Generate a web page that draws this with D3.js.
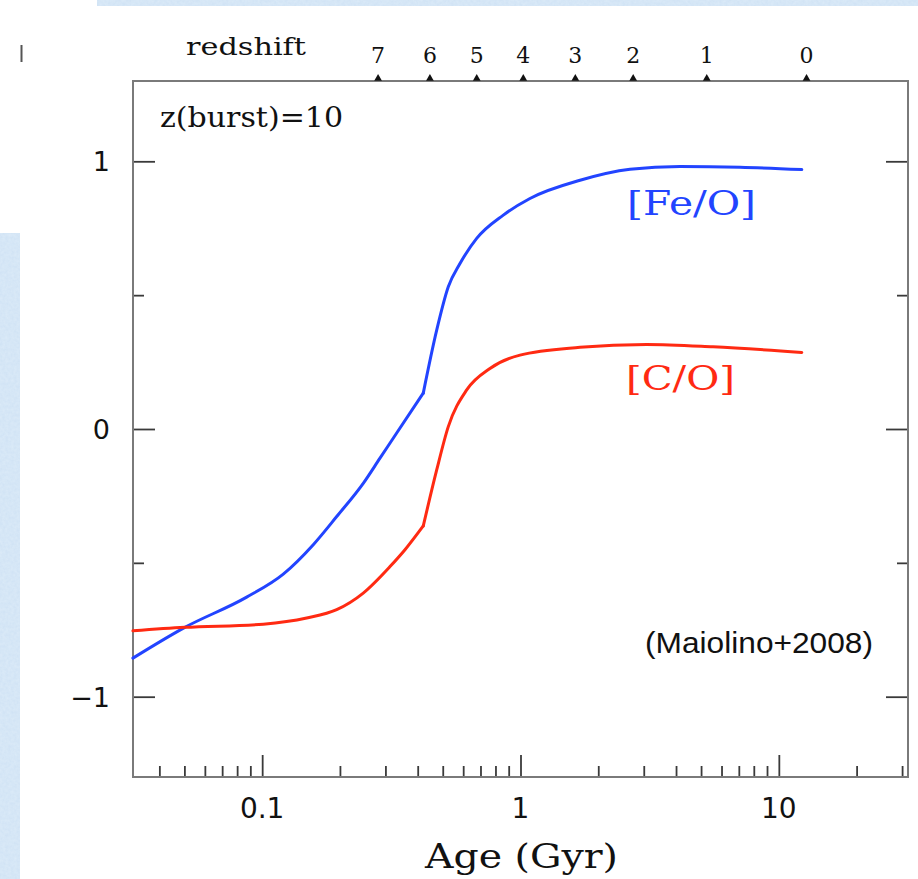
<!DOCTYPE html>
<html>
<head>
<meta charset="utf-8">
<script src="https://cdn.jsdelivr.net/npm/d3@7"></script>
<style>
  html, body { margin: 0; padding: 0; background: #ffffff; }
  svg { display: block; }
</style>
</head>
<body>
<svg id="chart" width="918" height="879"></svg>
<script>
// ---- data ----
const feoAge   = [0.0316, 0.0502, 0.0871, 0.1207, 0.1577, 0.1943, 0.2462, 0.2858, 0.3317, 0.4204, 0.4738, 0.5254, 0.5831, 0.6767, 0.8579, 1.088, 1.700, 2.654, 4.146, 7.075, 12.27];
const feoValue = [-0.856, -0.741, -0.628, -0.542, -0.432, -0.327, -0.203, -0.109, -0.015, 0.134, 0.369, 0.531, 0.618, 0.712, 0.799, 0.861, 0.929, 0.970, 0.981, 0.978, 0.969];

const coAge   = [0.0316, 0.0502, 0.101, 0.1487, 0.1943, 0.2462, 0.3125, 0.3571, 0.4204, 0.4738, 0.5254, 0.6191, 0.7617, 0.9956, 1.700, 3.080, 5.563, 12.27];
const coValue = [-0.754, -0.741, -0.729, -0.706, -0.675, -0.613, -0.514, -0.451, -0.362, -0.153, 0.009, 0.146, 0.226, 0.276, 0.305, 0.316, 0.307, 0.286];

// age at which both tracks show a sharp break
const kinkAge = 0.4204;

const redshiftLabels = ["7", "6", "5", "4", "3", "2", "1", "0"];
const redshiftAge    = [0.281, 0.446, 0.677, 1.025, 1.63, 2.73, 5.26, 12.8];

const xTickValues = [0.1, 1, 10];
const xTickLabels = ["0.1", "1", "10"];
const yTickValues = [-1, 0, 1];
const yTickLabels = ["\u22121", "0", "1"];
const yMinorValues = [-0.5, 0.5];

const seriesNames  = ["[Fe/O]", "[C/O]"];

// ---- layout ----
const svg = d3.select("#chart");
const L = 133, R = 908, T = 81, B = 777;

const x = d3.scaleLog().domain([Math.pow(10, -1.5), Math.pow(10, 1.5)]).range([L, R]);
const y = d3.scaleLinear().domain([-1.3, 1.3]).range([B, T]);

// background decoration (light blue strips)
const defs = svg.append("defs");
const filt = defs.append("filter").attr("id", "tex").attr("x", 0).attr("y", 0).attr("width", 1).attr("height", 1);
filt.append("feTurbulence").attr("type", "fractalNoise").attr("baseFrequency", 0.35).attr("numOctaves", 2).attr("seed", 3).attr("result", "n");
filt.append("feColorMatrix").attr("in", "n").attr("type", "matrix")
  .attr("values", "0 0 0 0 0.80  0 0 0 0 0.89  0 0 0 0 0.97  0 0 0 0.9 0").attr("result", "c");
filt.append("feComposite").attr("in", "c").attr("in2", "SourceGraphic").attr("operator", "in");

const strips = [[97, 0, 821, 6], [0, 233, 20, 646]];
strips.forEach(s => {
  svg.append("rect").attr("x", s[0]).attr("y", s[1]).attr("width", s[2]).attr("height", s[3]).attr("fill", "#cfe2f4");
  svg.append("rect").attr("x", s[0]).attr("y", s[1]).attr("width", s[2]).attr("height", s[3]).attr("fill", "#cfe2f4")
    .attr("filter", "url(#tex)").attr("opacity", 0.6);
});

// small stray mark at top-left
svg.append("line").attr("x1", 21.5).attr("x2", 21.5).attr("y1", 45).attr("y2", 62)
  .attr("stroke", "#555").attr("stroke-width", 2);

// ---- axes (ticks inward) ----
const tickColor = "#3a3a3a";
function styleAxis(g) {
  g.select(".domain").remove();
  g.selectAll(".tick line").attr("stroke", tickColor).attr("stroke-width", 1.8);
  g.selectAll(".tick text").remove();
}
const minorX = x.ticks().filter(v => Math.abs(Math.log10(v) - Math.round(Math.log10(v))) > 1e-6);

svg.append("g").attr("transform", `translate(0,${B})`)
  .call(d3.axisBottom(x).tickValues(xTickValues).tickSize(-22).tickFormat(""))
  .call(styleAxis);
svg.append("g").attr("transform", `translate(0,${B})`)
  .call(d3.axisBottom(x).tickValues(minorX).tickSize(-11).tickFormat(""))
  .call(styleAxis);

svg.append("g").attr("transform", `translate(${L},0)`)
  .call(d3.axisLeft(y).tickValues(yTickValues).tickSize(-22).tickFormat(""))
  .call(styleAxis);
svg.append("g").attr("transform", `translate(${L},0)`)
  .call(d3.axisLeft(y).tickValues(yMinorValues).tickSize(-11).tickFormat(""))
  .call(styleAxis);
svg.append("g").attr("transform", `translate(${R},0)`)
  .call(d3.axisRight(y).tickValues(yTickValues).tickSize(-22).tickFormat(""))
  .call(styleAxis);
svg.append("g").attr("transform", `translate(${R},0)`)
  .call(d3.axisRight(y).tickValues(yMinorValues).tickSize(-11).tickFormat(""))
  .call(styleAxis);

// frame
svg.append("rect").attr("x", L).attr("y", T).attr("width", R - L).attr("height", B - T)
  .attr("fill", "none").attr("stroke", "#7a7a7a").attr("stroke-width", 2);

// tick labels
const serif = "'DejaVu Serif', 'Liberation Serif', serif";
const sans = "'DejaVu Sans', 'Liberation Sans', sans-serif";
svg.append("g").selectAll("text").data(xTickValues).join("text")
  .attr("x", d => x(d)).attr("y", 818)
  .attr("text-anchor", "middle")
  .attr("font-family", sans).attr("font-size", 28).attr("fill", "#111")
  .text((d, i) => xTickLabels[i]);

svg.append("g").selectAll("text").data(yTickValues).join("text")
  .attr("x", 110).attr("y", d => y(d) + 10)
  .attr("text-anchor", "end")
  .attr("font-family", sans).attr("font-size", 27).attr("fill", "#111")
  .text((d, i) => yTickLabels[i]);

// top redshift axis
const tri = d3.symbol().type(d3.symbolTriangle).size(26);
svg.append("g").selectAll("path").data(redshiftAge).join("path")
  .attr("d", tri)
  .attr("transform", d => `translate(${x(d)},${T - 2.5})`)
  .attr("fill", "#111");
svg.append("g").selectAll("text").data(redshiftAge).join("text")
  .attr("x", d => x(d)).attr("y", 63)
  .attr("text-anchor", "middle")
  .attr("font-family", serif).attr("font-size", 22).attr("fill", "#111")
  .text((d, i) => redshiftLabels[i]);

svg.append("text").attr("x", 186).attr("y", 55)
  .attr("font-family", serif).attr("font-size", 24).attr("fill", "#111")
  .attr("textLength", 120).attr("lengthAdjust", "spacingAndGlyphs")
  .text("redshift");

svg.append("text").attr("x", 160).attr("y", 127)
  .attr("font-family", serif).attr("font-size", 27).attr("fill", "#111")
  .attr("textLength", 183).attr("lengthAdjust", "spacingAndGlyphs")
  .text("z(burst)=10");

svg.append("text").attr("x", 425).attr("y", 868)
  .attr("font-family", serif).attr("font-size", 34).attr("fill", "#111")
  .attr("textLength", 193).attr("lengthAdjust", "spacingAndGlyphs")
  .text("Age (Gyr)");

// ---- curves: smooth on each side of the break, sharp at the break ----
const line = d3.line().x(d => x(d[0])).y(d => y(d[1])).curve(d3.curveMonotoneX);
const blue = "#2244ff", red = "#ff2a12";
function drawSeries(ages, vals, color) {
  const pts = ages.map((a, i) => [a, vals[i]]);
  const before = pts.filter(p => p[0] <= kinkAge);
  const after = pts.filter(p => p[0] >= kinkAge);
  [before, after].forEach(seg => {
    svg.append("path").datum(seg)
      .attr("d", line).attr("fill", "none").attr("stroke", color)
      .attr("stroke-width", 3).attr("stroke-linejoin", "round").attr("stroke-linecap", "round");
  });
}
drawSeries(feoAge, feoValue, blue);
drawSeries(coAge, coValue, red);

// series labels
svg.append("text").attr("x", 627).attr("y", 215)
  .attr("font-family", serif).attr("font-size", 34).attr("fill", blue)
  .attr("textLength", 129).attr("lengthAdjust", "spacingAndGlyphs")
  .text(seriesNames[0]);
svg.append("text").attr("x", 626).attr("y", 390)
  .attr("font-family", serif).attr("font-size", 34).attr("fill", red)
  .attr("textLength", 109).attr("lengthAdjust", "spacingAndGlyphs")
  .text(seriesNames[1]);

// citation
svg.append("text").attr("x", 645).attr("y", 653)
  .attr("font-family", "'Liberation Sans', Arial, sans-serif").attr("font-size", 30).attr("fill", "#111")
  .attr("textLength", 228).attr("lengthAdjust", "spacingAndGlyphs")
  .text("(Maiolino+2008)");
</script>
</body>
</html>
